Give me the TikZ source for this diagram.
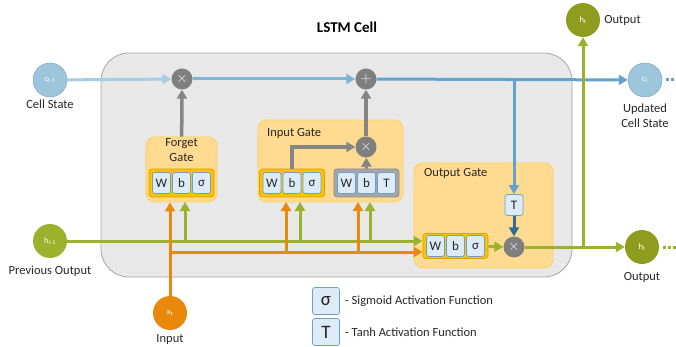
\documentclass[tikz,border=0pt]{standalone}
\usepackage{fontspec}
\setmainfont{Carlito}
\usetikzlibrary{positioning,shapes,arrows,arrows.meta}

\definecolor{cellgray}{HTML}{E8E8E8}
\definecolor{cellline}{HTML}{A6A6A6}
\definecolor{gatefill}{HTML}{FFDB91}
\definecolor{gateline}{HTML}{FFCD5A}
\definecolor{stripfill}{HTML}{FFC000}
\definecolor{stripline}{HTML}{D9A300}
\definecolor{tstrip}{HTML}{A6A6A6}
\definecolor{tstripline}{HTML}{8C8C8C}
\definecolor{keyfill}{HTML}{DDEBF7}
\definecolor{keyline}{HTML}{6F9FC8}
\definecolor{opgray}{HTML}{7F7F7F}
\definecolor{cblueA}{HTML}{A5CDE3}
\definecolor{cblueB}{HTML}{7DB5D7}
\definecolor{cblueC}{HTML}{62A2CB}
\definecolor{cdark}{HTML}{2F6D94}
\definecolor{ccirc}{HTML}{9DC5DC}
\definecolor{olive}{HTML}{9CB12C}
\definecolor{hcirc}{HTML}{8E9D1E}
\definecolor{xorange}{HTML}{E8890C}

\begin{document}
\begin{tikzpicture}[x=1pt,y=-1pt,
				lbl/.style={font=\fontsize{12.5}{15}\selectfont, text=black!85, inner sep=1pt},
				cnode/.style={circle, minimum size=34pt, inner sep=0pt, text=white, font=\fontsize{8.5}{9}\selectfont},
				op/.style={circle, fill=opgray, minimum size=21pt, inner sep=0pt, text=white, font=\fontsize{15}{15}\selectfont},
				gate/.style={rectangle, rounded corners=9pt, draw=gateline, fill=gatefill, line width=0.8pt},
				strip/.style={rectangle, rounded corners=3pt, draw=stripline, fill=stripfill, line width=0.8pt, minimum width=65pt, minimum height=28pt},
				key/.style={rectangle, rounded corners=2.5pt, draw=keyline, fill=keyfill, line width=0.7pt, minimum width=18pt, minimum height=21pt, inner sep=0pt, font=\fontsize{13}{13}\selectfont, text=black!85},
				arr/.style={-{Triangle[length=9pt,width=10pt]}, line width=3pt},
				garr/.style={arr, opgray!95, line width=3.5pt}
				]
				\useasboundingbox (0,0) rectangle (676,347);

				% cell and gates
				\node[rectangle, rounded corners=28pt, draw=cellline, fill=cellgray, line width=0.8pt, minimum width=471pt, minimum height=224pt] (cell) at (336.5,165) {};
				\node[font=\bfseries\fontsize{15}{15}\selectfont] (title) at (347,27) {LSTM Cell};

				\node[gate, minimum width=71pt, minimum height=65pt] (fgate) at (181.5,169.5) {};
				\node[gate, minimum width=145pt, minimum height=82pt] (igate) at (330.5,161) {};
				\node[gate, minimum width=139pt, minimum height=105pt] (ogate) at (483.5,215.5) {};
				\node[lbl, align=center, anchor=north] (flbl) at ([yshift=-1pt]fgate.north) {Forget\\Gate};
				\node[lbl, anchor=west] (ilbl) at (266,133) {Input Gate};
				\node[lbl, anchor=west] (olbl) at (423,173) {Output Gate};

				% weight strips
				\node[strip] (fstrip) at (181.5,183) {};
				\node[strip] (istrip) at (292,183) {};
				\node[strip, draw=tstripline, fill=tstrip] (tstrip) at (366.5,183) {};
				\node[strip, minimum height=25pt] (ostrip) at (455.5,246) {};
				\foreach \s/\f in {fstrip/σ, istrip/σ, tstrip/T, ostrip/σ} {
					\node[key] at ([xshift=-20pt]\s.center) {W};
					\node[key] at (\s.center) {b};
					\node[key] at ([xshift=20pt]\s.center) {\f};
				}

				% operations
				\node[op] (fmul) at (182,79) {$\times$};
				\node[op] (add) at (366,79) {$+$};
				\node[op] (imul) at (366,147) {$\times$};
				\node[op] (omul) at (514,247) {$\times$};
				\node[key] (tanh) at (514,205) {T};

				% states
				\node[cnode, draw=keyline, fill=ccirc] (cprev) at (50,80) {c\textsubscript{t-1}};
				\node[cnode, draw=keyline, fill=ccirc] (cnew) at (645,80) {c\textsubscript{t}};
				\node[cnode, fill=olive] (hprev) at (50,241) {h\textsubscript{t-1}};
				\node[cnode, fill=hcirc] (hnew) at (642,247) {h\textsubscript{t}};
				\node[cnode, fill=hcirc] (hout) at (583,20) {h\textsubscript{t}};
				\node[cnode, fill=xorange] (xt) at (170,313) {x\textsubscript{t}};

				\node[lbl, below=1pt of cprev] (cprevlbl) {Cell State};
				\node[lbl, below=5pt of cnew, align=center] (cnewlbl) {Updated\\Cell State};
				\node[lbl, below=6pt of hprev] (hprevlbl) {Previous Output};
				\node[lbl, below=7pt of hnew] (hnewlbl) {Output};
				\node[lbl, right=3pt of hout] (houtlbl) {Output};
				\node[lbl, below=3pt of xt] (xtlbl) {Input};

				\coordinate (tap) at (tanh |- add);
				\coordinate (hup) at (hout |- omul);
				\coordinate (cend) at (676,80);
				\coordinate (hend) at (676,247);

				% cell state line
				\draw[arr, cblueA] (cprev) -- (fmul);
				\draw[arr, cblueB] (fmul) -- (add);
				\draw[arr, cblueC] (add) -- (cnew);
				\draw[cblueC, line width=3pt, dash pattern=on 3pt off 2pt] ([xshift=4pt]cnew.east) -- (cend);
				\draw[arr, cblueC] (tap) -- (tanh);
				\draw[arr, cdark] (tanh) -- (omul);

				% gate outputs
				\draw[garr] (fgate) -- (fmul);
				\draw[garr] (istrip.north) |- (imul);
				\draw[garr] (tstrip.north) -- (imul);
				\draw[garr] (imul) -- (add);

				% previous output
				\draw[arr, olive] (hprev) -- (ostrip.west |- hprev);
				\foreach \x in {185,300,370}
					\draw[arr, olive] (\x,241) -- (\x,202);

				% input
				\draw[arr, xorange] (xt) -- (xt |- fgate.south);
				\draw[arr, xorange] (170,252) -- (ostrip.west |- 0,252);
				\foreach \x in {286,358}
					\draw[arr, xorange] (\x,252) -- (\x,202);

				% output
				\draw[arr, olive] (ostrip) -- (omul);
				\draw[arr, olive] (omul) -- (hnew);
				\draw[arr, olive] (hup) -- (hout);
				\draw[olive, line width=3pt, dash pattern=on 3pt off 2pt] ([xshift=4pt]hnew.east) -- (hend);

				% legend
				\node[key, minimum width=27pt, minimum height=27pt, font=\fontsize{19}{19}\selectfont] (sigkey) at (326,301) {σ};
				\node[key, minimum width=27pt, minimum height=27pt, font=\fontsize{19}{19}\selectfont] (tanhkey) at (326,332) {T};
				\node[lbl, right=4pt of sigkey] (siglbl) {- Sigmoid Activation Function};
				\node[lbl, right=4pt of tanhkey] (tanhlbl) {- Tanh Activation Function};
			\end{tikzpicture}
\end{document}
